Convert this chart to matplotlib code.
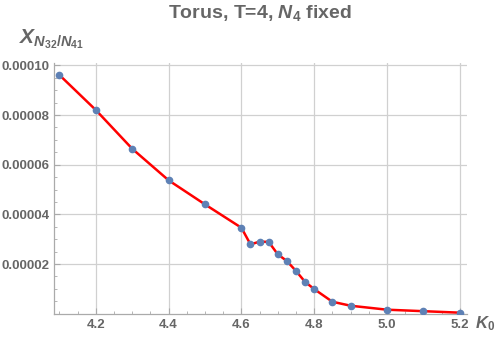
import matplotlib.pyplot as plt
from matplotlib.ticker import MultipleLocator, FormatStrFormatter

# --- Data ---
k0 = [4.1, 4.2, 4.3, 4.4, 4.5, 4.6, 4.625, 4.65, 4.675, 4.7, 4.725,
      4.75, 4.775, 4.8, 4.85, 4.9, 5.0, 5.1, 5.2]
chi = [9.61e-5, 8.20e-5, 6.64e-5, 5.37e-5, 4.40e-5, 3.46e-5, 2.79e-5,
       2.90e-5, 2.89e-5, 2.39e-5, 2.12e-5, 1.72e-5, 1.28e-5, 0.99e-5,
       0.48e-5, 0.32e-5, 0.16e-5, 0.10e-5, 0.04e-5]
x_ticks = [4.2, 4.4, 4.6, 4.8, 5.0, 5.2]
y_ticks = [0.00002, 0.00004, 0.00006, 0.00008, 0.00010]

plt.rcParams['font.family'] = ['Liberation Sans', 'DejaVu Sans']
plt.rcParams['mathtext.fontset'] = 'custom'
plt.rcParams['mathtext.rm'] = 'Liberation Sans:bold'
plt.rcParams['mathtext.it'] = 'Liberation Sans:italic:bold'

text_gray = '#666666'
axis_gray = '#aaaaaa'
grid_gray = '#d0d0d0'

fig = plt.figure(figsize=(5, 3.38), dpi=100)
ax = fig.add_axes([0.108, 0.072, 0.826, 0.742])

ax.plot(k0, chi, color='red', lw=1.8, zorder=3)
ax.plot(k0, chi, 'o', color='#5e81b5', ms=4.5, zorder=4)

ax.set_xlim(4.085, 5.22)
ax.set_ylim(0, 0.000101)
ax.set_xticks(x_ticks)
ax.set_yticks(y_ticks)
ax.xaxis.set_major_formatter(FormatStrFormatter('%.1f'))
ax.yaxis.set_major_formatter(FormatStrFormatter('%.5f'))
ax.xaxis.set_minor_locator(MultipleLocator(0.05))
ax.yaxis.set_minor_locator(MultipleLocator(0.000005))

ax.grid(True, which='major', color=grid_gray, lw=0.9)
ax.set_axisbelow(True)
for side in ['top', 'right']:
    ax.spines[side].set_visible(False)
for side in ['left', 'bottom']:
    ax.spines[side].set_color(axis_gray)
    ax.spines[side].set_linewidth(0.9)

ax.tick_params(which='both', direction='in', color=axis_gray, labelcolor=text_gray,
               labelsize=9.5)
ax.tick_params(which='major', length=4)
ax.tick_params(which='minor', length=2)
for lbl in ax.get_xticklabels() + ax.get_yticklabels():
    lbl.set_fontweight('bold')

# title sits high, close to the top edge
fig.text(0.52, 0.962, r'Torus, T=4, $N_4$ fixed', fontsize=14, fontweight='bold',
         color=text_gray, ha='center', va='center')
ax.text(-0.085, 1.095, r'$X_{N_{32}/N_{41}}$', transform=ax.transAxes,
        fontsize=15, color=text_gray, ha='left', va='center')
ax.text(1.02, -0.04, r'$K_0$', transform=ax.transAxes,
        fontsize=12, color=text_gray, ha='left', va='center')

fig.savefig('out.png', dpi=100)
